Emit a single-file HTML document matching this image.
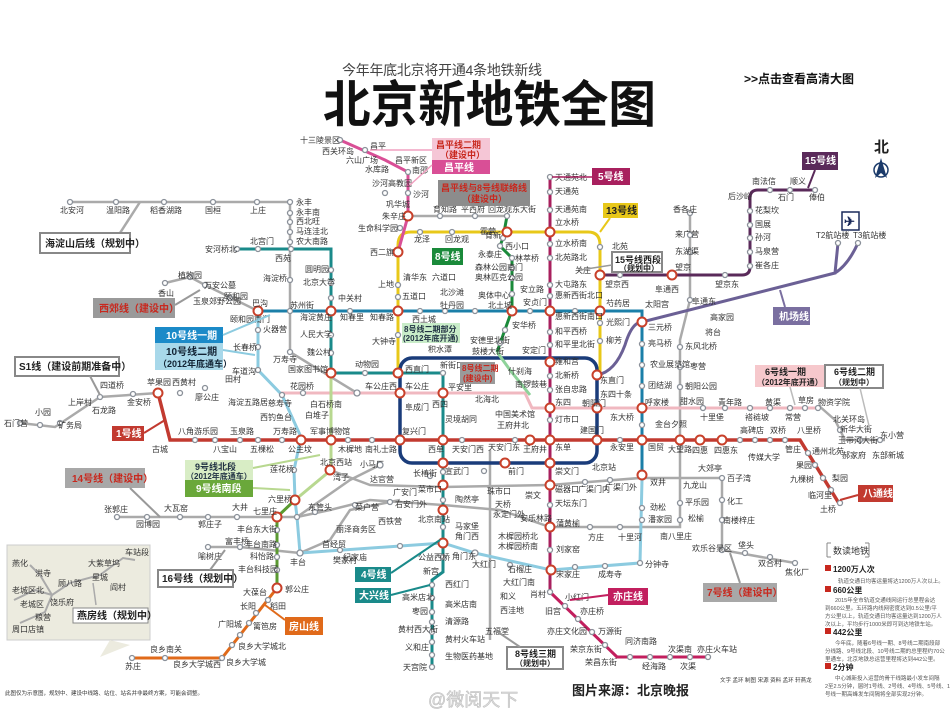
<!DOCTYPE html>
<html><head><meta charset="utf-8"><style>
html,body{margin:0;padding:0;background:#fff;}
svg{display:block;}
text{font-family:"Liberation Sans","Noto Sans CJK SC",sans-serif;}
.s{font-size:8px;fill:#333;}
.st{fill:#fff;stroke:#8a9099;stroke-width:1.3;}
.tr{fill:#fff;stroke:#c8402a;stroke-width:2;}
.bx{font-size:10px;font-weight:bold;}
</style></head><body>
<svg width="950" height="713" viewBox="0 0 950 713" xmlns="http://www.w3.org/2000/svg">
<rect width="950" height="713" fill="#fff"/>
<!-- titles -->
<text x="342" y="75" font-size="14" fill="#444" textLength="200">今年年底北京将开通4条地铁新线</text>
<text x="323" y="122" font-size="50" font-weight="bold" fill="#111" textLength="333" lengthAdjust="spacingAndGlyphs">北京新地铁全图</text>
<text x="744" y="83" font-size="12" font-weight="bold" fill="#111">&gt;&gt;点击查看高清大图</text>
<!-- compass -->
<text x="874" y="152" font-size="15" font-weight="bold" fill="#222">北</text>
<path d="M881 158 L875 178 L881 173 L887 178 Z" fill="#1a3a6a"/>
<circle cx="881" cy="170" r="7" fill="none" stroke="#1a3a6a" stroke-width="1.5"/>

<!-- grey planned lines -->
<g fill="none" stroke="#aaaaaa" stroke-width="2.5">
<path d="M70 202 H290 V352 L357 393"/>
<path d="M140 202 L120 233"/>
<path d="M165 283 L190 277 L205 285 L258 311"/>
<path d="M20 423 L55 427 L100 397 L158 393"/>
<path d="M117 517 H297 L350 480 L380 465"/>
<path d="M297 517 L330 510 L370 500 L443 505 L500 510 L550 527 H642 H680 V440 V408 V340 L690 300 L690 213"/>
<path d="M208 547 H240 L300 553"/>
<path d="M330 470 L370 485 L443 487 L550 485 L640 478 H722 V550 L795 563"/>
<path d="M818 405 L835 420 L845 440 H885"/>
<path d="M300 553 L330 540 L350 510 L400 500"/>
<path d="M490 450 V640"/>
<path d="M290 202 V202"/>
</g>
<!-- line 6 -->
<path d="M280 393 H525 L532 408 H820" fill="none" stroke="#f0b8c0" stroke-width="3"/>
<!-- line 10 -->
<path d="M258 311 H642 V480" fill="none" stroke="#1b7fa8" stroke-width="3"/>
<path d="M258 311 V370 L282 395 L301 437 L294 470 L295 500 L297 517 L300 553 L443 543 L475 553 L551 570 L640 563 L642 480" fill="none" stroke="#8ccbe0" stroke-width="3"/>
<!-- line 13 -->
<path d="M398 373 V245 Q398 232 411 232 H588 Q600 232 600 245 V375" fill="none" stroke="#e8c81a" stroke-width="3"/>
<!-- line 2 -->
<rect x="400" y="358" width="197" height="105" rx="12" fill="none" stroke="#1a3c7a" stroke-width="3.5"/>
<!-- line 4 -->
<path d="M237 249 H331 V373 H443 V572 L432 580 V667" fill="none" stroke="#1a8a8a" stroke-width="3"/>
<!-- line 9 -->
<path d="M331 373 V470 L295 500" fill="none" stroke="#b8d890" stroke-width="3"/>
<path d="M295 500 L277 517 V588" fill="none" stroke="#5a9a30" stroke-width="3"/>
<!-- line 8 -->
<path d="M507 216 L503 238 L500 246 L512 258 V310 L497 352" fill="none" stroke="#1a8a3a" stroke-width="3"/>
<path d="M497 352 L510 370 L530 395" fill="none" stroke="#8ed39a" stroke-width="3"/>
<!-- changping -->
<path d="M398 252 L408 216 V172 L385 160 L340 140" fill="none" stroke="#d94f96" stroke-width="3"/>
<path d="M408 216 H507" fill="none" stroke="#aaa" stroke-width="2.5"/>
<!-- line 5 -->
<path d="M550 177 V592" fill="none" stroke="#a8205e" stroke-width="3"/>
<path d="M550 592 L617 657 H708" fill="none" stroke="#c21f5e" stroke-width="3"/>
<!-- line 1 -->
<path d="M158 393 L170 440 H800 L840 505" fill="none" stroke="#c23a30" stroke-width="3.5"/>
<!-- fangshan -->
<path d="M277 588 L222 658 H132" fill="none" stroke="#e06a1a" stroke-width="3"/>
<!-- line 15 -->
<path d="M600 275 H742 Q750 275 750 267 V198 Q750 190 758 190 H815" fill="none" stroke="#5a2a5a" stroke-width="3"/>
<!-- airport -->
<path d="M597 375 Q615 372 625 345 Q632 322 642 322 L835 273 L838 243 M835 273 Q848 265 858 243" fill="none" stroke="#6b6095" stroke-width="3"/>

<!-- stations -->
<g class="st">
<circle cx="70" cy="202" r="2.5"/><circle cx="116" cy="202" r="2.5"/><circle cx="164" cy="202" r="2.5"/><circle cx="213" cy="202" r="2.5"/><circle cx="257" cy="202" r="2.5"/><circle cx="290" cy="202" r="2.5"/>
<circle cx="290" cy="213" r="2.5"/><circle cx="290" cy="222" r="2.5"/><circle cx="290" cy="232" r="2.5"/><circle cx="290" cy="242" r="2.5"/><circle cx="290" cy="280" r="2.5"/><circle cx="290" cy="311" r="2.5"/><circle cx="290" cy="352" r="2.5"/>
<circle cx="237" cy="249" r="2.5"/><circle cx="258" cy="249" r="2.5"/><circle cx="291" cy="249" r="2.5"/><circle cx="331" cy="270" r="2.5"/><circle cx="331" cy="283" r="2.5"/><circle cx="331" cy="298" r="2.5"/><circle cx="331" cy="335" r="2.5"/><circle cx="331" cy="353" r="2.5"/>
<circle cx="350" cy="311" r="2.5"/><circle cx="420" cy="311" r="2.5"/><circle cx="445" cy="311" r="2.5"/><circle cx="475" cy="311" r="2.5"/><circle cx="530" cy="311" r="2.5"/><circle cx="575" cy="311" r="2.5"/>
<circle cx="258" cy="330" r="2.5"/><circle cx="258" cy="347" r="2.5"/><circle cx="258" cy="370" r="2.5"/><circle cx="282" cy="395" r="2.5"/><circle cx="294" cy="470" r="2.5"/><circle cx="297" cy="517" r="2.5"/><circle cx="300" cy="553" r="3"/>
<circle cx="398" cy="285" r="2.5"/><circle cx="398" cy="297" r="2.5"/><circle cx="398" cy="335" r="2.5"/><circle cx="420" cy="232" r="2.5"/><circle cx="452" cy="232" r="2.5"/><circle cx="600" cy="247" r="2.5"/><circle cx="600" cy="323" r="2.5"/><circle cx="600" cy="341" r="2.5"/>
<circle cx="365" cy="373" r="2.5"/><circle cx="443" cy="373" r="2.5"/><circle cx="443" cy="472" r="2.5"/><circle cx="443" cy="500" r="2.5"/><circle cx="443" cy="527" r="2.5"/><circle cx="443" cy="557" r="2.5"/>
<circle cx="432" cy="585" r="2.5"/><circle cx="432" cy="598" r="2.5"/><circle cx="432" cy="612" r="2.5"/><circle cx="432" cy="622" r="2.5"/><circle cx="432" cy="632" r="2.5"/><circle cx="432" cy="642" r="2.5"/><circle cx="432" cy="655" r="2.5"/><circle cx="432" cy="667" r="2.5"/>
<circle cx="550" cy="177" r="2.5"/><circle cx="550" cy="192" r="2.5"/><circle cx="550" cy="210" r="2.5"/><circle cx="550" cy="244" r="2.5"/><circle cx="550" cy="258" r="2.5"/><circle cx="550" cy="285" r="2.5"/><circle cx="550" cy="296" r="2.5"/><circle cx="550" cy="332" r="2.5"/><circle cx="550" cy="345" r="2.5"/><circle cx="550" cy="376" r="2.5"/><circle cx="550" cy="390" r="2.5"/><circle cx="550" cy="420" r="2.5"/><circle cx="550" cy="505" r="2.5"/><circle cx="550" cy="550" r="2.5"/><circle cx="550" cy="592" r="2.5"/>
<circle cx="565" cy="606" r="2.5"/><circle cx="578" cy="619" r="2.5"/><circle cx="592" cy="632" r="2.5"/><circle cx="605" cy="645" r="2.5"/><circle cx="630" cy="657" r="2.5"/><circle cx="650" cy="657" r="2.5"/><circle cx="670" cy="657" r="2.5"/><circle cx="690" cy="657" r="2.5"/><circle cx="708" cy="657" r="2.5"/>
<circle cx="507" cy="216" r="2.5"/><circle cx="503" cy="238" r="2.5"/><circle cx="500" cy="246" r="2.5"/><circle cx="512" cy="258" r="2.5"/><circle cx="512" cy="268" r="2.5"/><circle cx="512" cy="278" r="2.5"/><circle cx="512" cy="294" r="2.5"/><circle cx="505" cy="330" r="2.5"/><circle cx="500" cy="343" r="2.5"/>
<circle cx="385" cy="193" r="2.5"/><circle cx="408" cy="172" r="2.5"/><circle cx="408" cy="193" r="2.5"/><circle cx="400" cy="228" r="2.5"/><circle cx="365" cy="150" r="2.5"/><circle cx="340" cy="140" r="2.5"/><circle cx="440" cy="216" r="2.5"/><circle cx="475" cy="216" r="2.5"/>
<circle cx="195" cy="440" r="2.5"/><circle cx="215" cy="440" r="2.5"/><circle cx="240" cy="440" r="2.5"/><circle cx="258" cy="440" r="2.5"/><circle cx="282" cy="440" r="2.5"/><circle cx="348" cy="440" r="2.5"/><circle cx="372" cy="440" r="2.5"/><circle cx="462" cy="440" r="2.5"/><circle cx="515" cy="440" r="2.5"/><circle cx="620" cy="440" r="2.5"/><circle cx="740" cy="440" r="2.5"/><circle cx="755" cy="440" r="2.5"/><circle cx="770" cy="440" r="2.5"/><circle cx="785" cy="440" r="2.5"/><circle cx="808" cy="453" r="2.5"/><circle cx="815" cy="465" r="2.5"/><circle cx="823" cy="478" r="2.5"/><circle cx="831" cy="490" r="2.5"/><circle cx="840" cy="503" r="2.5"/>
<circle cx="642" cy="344" r="2.5"/><circle cx="642" cy="365" r="2.5"/><circle cx="642" cy="386" r="2.5"/><circle cx="642" cy="425" r="2.5"/><circle cx="642" cy="508" r="2.5"/><circle cx="642" cy="520" r="2.5"/><circle cx="640" cy="563" r="2.5"/><circle cx="605" cy="566" r="2.5"/><circle cx="575" cy="567" r="2.5"/><circle cx="510" cy="565" r="2.5"/><circle cx="475" cy="553" r="3"/><circle cx="400" cy="546" r="2.5"/><circle cx="340" cy="550" r="2.5"/>
<circle cx="620" cy="275" r="2.5"/><circle cx="725" cy="275" r="2.5"/><circle cx="750" cy="266" r="2.5"/><circle cx="750" cy="252" r="2.5"/><circle cx="750" cy="238" r="2.5"/><circle cx="750" cy="225" r="2.5"/><circle cx="750" cy="211" r="2.5"/><circle cx="770" cy="190" r="2.5"/><circle cx="790" cy="190" r="2.5"/><circle cx="815" cy="190" r="2.5"/><circle cx="838" cy="243" r="2.5"/><circle cx="858" cy="243" r="2.5"/>
<circle cx="690" cy="213" r="2.5"/><circle cx="690" cy="235" r="2.5"/><circle cx="690" cy="252" r="2.5"/><circle cx="690" cy="300" r="2.5"/><circle cx="680" cy="347" r="2.5"/><circle cx="680" cy="367" r="2.5"/><circle cx="680" cy="387" r="2.5"/><circle cx="680" cy="503" r="2.5"/><circle cx="680" cy="520" r="2.5"/><circle cx="620" cy="527" r="2.5"/><circle cx="590" cy="527" r="2.5"/>
<circle cx="703" cy="408" r="2.5"/><circle cx="725" cy="408" r="2.5"/><circle cx="750" cy="408" r="2.5"/><circle cx="770" cy="408" r="2.5"/><circle cx="790" cy="408" r="2.5"/><circle cx="805" cy="408" r="2.5"/><circle cx="818" cy="408" r="2.5"/><circle cx="840" cy="430" r="2.5"/><circle cx="860" cy="440" r="2.5"/><circle cx="880" cy="440" r="2.5"/>
<circle cx="722" cy="478" r="2.5"/><circle cx="722" cy="500" r="2.5"/><circle cx="722" cy="520" r="2.5"/><circle cx="722" cy="550" r="2.5"/><circle cx="745" cy="553" r="2.5"/><circle cx="770" cy="557" r="2.5"/><circle cx="795" cy="563" r="2.5"/><circle cx="610" cy="480" r="2.5"/><circle cx="585" cy="482" r="2.5"/>
<circle cx="117" cy="517" r="2.5"/><circle cx="147" cy="517" r="2.5"/><circle cx="180" cy="517" r="2.5"/><circle cx="208" cy="517" r="2.5"/><circle cx="237" cy="517" r="2.5"/><circle cx="315" cy="512" r="2.5"/><circle cx="355" cy="505" r="2.5"/><circle cx="390" cy="502" r="2.5"/>
<circle cx="277" cy="530" r="2.5"/><circle cx="277" cy="545" r="2.5"/><circle cx="277" cy="557" r="2.5"/><circle cx="277" cy="570" r="2.5"/><circle cx="268" cy="600" r="2.5"/><circle cx="256" cy="613" r="2.5"/><circle cx="249" cy="623" r="2.5"/><circle cx="240" cy="635" r="2.5"/><circle cx="232" cy="645" r="2.5"/><circle cx="222" cy="658" r="2.5"/><circle cx="165" cy="658" r="2.5"/><circle cx="132" cy="658" r="2.5"/>
<circle cx="208" cy="547" r="2.5"/><circle cx="240" cy="547" r="2.5"/>
<circle cx="20" cy="423" r="2.5"/><circle cx="40" cy="425" r="2.5"/><circle cx="60" cy="423" r="2.5"/><circle cx="100" cy="397" r="2.5"/><circle cx="133" cy="394" r="2.5"/><circle cx="180" cy="393" r="2.5"/><circle cx="205" cy="388" r="2.5"/><circle cx="165" cy="283" r="2.5"/><circle cx="190" cy="277" r="2.5"/><circle cx="205" cy="285" r="2.5"/><circle cx="230" cy="298" r="2.5"/>
<circle cx="303" cy="393" r="2.5"/><circle cx="357" cy="393" r="3"/><circle cx="430" cy="476" r="2.5"/><circle cx="484" cy="471" r="2.5"/><circle cx="380" cy="465" r="3"/>
</g>
<g class="tr">
<circle cx="258" cy="311" r="4.5"/><circle cx="331" cy="311" r="4.5"/><circle cx="398" cy="311" r="4.5"/><circle cx="512" cy="311" r="4.5"/><circle cx="550" cy="311" r="4.5"/><circle cx="600" cy="311" r="4.5"/><circle cx="642" cy="322" r="4.5"/>
<circle cx="331" cy="373" r="4.5"/><circle cx="398" cy="373" r="4.5"/><circle cx="398" cy="252" r="4.5"/><circle cx="408" cy="216" r="4.5"/><circle cx="507" cy="232" r="4.5"/><circle cx="550" cy="232" r="4.5"/>
<circle cx="400" cy="393" r="4.5"/><circle cx="443" cy="393" r="4.5"/><circle cx="550" cy="362" r="4.5"/><circle cx="550" cy="408" r="4.5"/><circle cx="597" cy="375" r="4.5"/><circle cx="597" cy="408" r="4.5"/><circle cx="642" cy="408" r="4.5"/><circle cx="600" cy="275" r="4.5"/><circle cx="672" cy="275" r="4.5"/>
<circle cx="158" cy="393" r="4.5"/><circle cx="301" cy="440" r="4.5"/><circle cx="331" cy="440" r="4.5"/><circle cx="400" cy="440" r="4.5"/><circle cx="443" cy="440" r="4.5"/><circle cx="530" cy="440" r="4.5"/><circle cx="550" cy="440" r="4.5"/><circle cx="597" cy="440" r="4.5"/><circle cx="642" cy="440" r="4.5"/><circle cx="680" cy="440" r="4.5"/><circle cx="700" cy="440" r="4.5"/><circle cx="722" cy="440" r="4.5"/>
<circle cx="443" cy="463" r="4.5"/><circle cx="505" cy="463" r="4.5"/><circle cx="550" cy="463" r="4.5"/><circle cx="443" cy="485" r="4.5"/><circle cx="550" cy="485" r="4.5"/><circle cx="642" cy="475" r="4.5"/><circle cx="443" cy="510" r="4.5"/><circle cx="550" cy="527" r="4.5"/><circle cx="443" cy="543" r="4.5"/><circle cx="551" cy="570" r="4.5"/>
<circle cx="330" cy="470" r="4.5"/><circle cx="295" cy="500" r="4.5"/><circle cx="277" cy="517" r="4.5"/><circle cx="277" cy="588" r="4.5"/>
</g>

<!-- station labels -->
<g class="s">
<text x="300" y="143">十三陵景区</text><text x="322" y="154">西关环岛</text><text x="370" y="149">昌平</text><text x="346" y="163">六山广场</text><text x="365" y="172">水库路</text><text x="395" y="163">昌平新区</text><text x="412" y="173">南邵</text><text x="372" y="186">沙河高教园</text><text x="413" y="197">沙河</text><text x="386" y="207">巩华城</text><text x="382" y="219">朱辛庄</text><text x="358" y="231">生命科学园</text><text x="433" y="212">育知路</text><text x="461" y="212">平西府</text><text x="488" y="212">回龙观东大街</text>
<text x="60" y="213">北安河</text><text x="106" y="213">温阳路</text><text x="150" y="213">稻香湖路</text><text x="205" y="213">国桓</text><text x="250" y="213">上庄</text><text x="296" y="205">永丰</text><text x="296" y="215">永丰南</text><text x="296" y="224">西北旺</text><text x="296" y="234">马连洼北</text><text x="296" y="244">农大南路</text>
<text x="250" y="244">北宫门</text><text x="205" y="252">安河桥北</text><text x="275" y="261">西苑</text><text x="305" y="272">圆明园</text><text x="263" y="281">海淀桥</text><text x="303" y="285">北京大学</text><text x="338" y="301">中关村</text><text x="290" y="308">苏州街</text><text x="252" y="306">巴沟</text><text x="204" y="288">万安公墓</text><text x="178" y="278">植物园</text><text x="158" y="296">香山</text><text x="193" y="304">玉泉郊野公园</text><text x="224" y="299">颐和园</text><text x="230" y="322">颐和园南门</text><text x="263" y="332">火器营</text><text x="233" y="350">长春桥</text><text x="300" y="320">海淀黄庄</text><text x="340" y="320">知春里</text><text x="370" y="320">知春路</text><text x="300" y="337">人民大学</text><text x="307" y="355">魏公村</text><text x="273" y="362">万寿寺</text><text x="288" y="372">国家图书馆</text><text x="355" y="367">动物园</text><text x="405" y="372">西直门</text><text x="440" y="368">新街口</text>
<text x="232" y="374">车道沟</text><text x="290" y="389">花园桥</text><text x="365" y="389">车公庄西</text><text x="405" y="389">车公庄</text><text x="448" y="390">平安里</text><text x="225" y="382">田村</text><text x="147" y="385">苹果园</text><text x="172" y="385">西黄村</text><text x="195" y="400">廖公庄</text><text x="100" y="388">四道桥</text><text x="68" y="405">上岸村</text><text x="92" y="413">石龙路</text><text x="127" y="405">金安桥</text><text x="228" y="405">海淀五路居</text><text x="268" y="406">慈寿寺</text><text x="310" y="407">白石桥南</text><text x="305" y="418">白堆子</text><text x="260" y="420">西钓鱼台</text><text x="35" y="415">小园</text><text x="4" y="426">石门营</text><text x="58" y="428">矿务局</text><text x="405" y="410">阜成门</text><text x="432" y="407">西四</text><text x="445" y="422">灵境胡同</text>
<text x="378" y="287">上地</text><text x="402" y="299">五道口</text><text x="403" y="280">清华东</text><text x="432" y="280">六道口</text><text x="440" y="295">北沙滩</text><text x="440" y="308">牡丹园</text><text x="412" y="322">西土城</text><text x="372" y="344">大钟寺</text><text x="428" y="352">积水潭</text><text x="370" y="255">西二旗</text><text x="414" y="242">龙泽</text><text x="445" y="242">回龙观</text><text x="480" y="234">霍营</text>
<text x="555" y="180">天通苑北</text><text x="555" y="194">天通苑</text><text x="555" y="212">天通苑南</text><text x="555" y="225">立水桥</text><text x="555" y="246">立水桥南</text><text x="555" y="260">北苑路北</text><text x="555" y="287">大屯路东</text><text x="555" y="298">惠新西街北口</text><text x="555" y="319">惠新西街南口</text><text x="555" y="334">和平西桥</text><text x="555" y="347">和平里北街</text><text x="555" y="364">雍和宫</text><text x="555" y="378">北新桥</text><text x="555" y="392">张自忠路</text><text x="555" y="405">东四</text><text x="555" y="422">灯市口</text>
<text x="485" y="238">育新</text><text x="505" y="249">西小口</text><text x="478" y="257">永泰庄</text><text x="515" y="261">林萃桥</text><text x="475" y="270">森林公园南门</text><text x="475" y="280">奥林匹克公园</text><text x="478" y="298">奥体中心</text><text x="488" y="308">北土城</text><text x="520" y="292">安立路</text><text x="523" y="305">安贞门</text><text x="512" y="328">安华桥</text><text x="470" y="343">安德里北街</text><text x="472" y="354">鼓楼大街</text><text x="522" y="353">安定门</text><text x="508" y="374">什刹海</text><text x="515" y="387">南锣鼓巷</text><text x="475" y="402">北海北</text><text x="495" y="417">中国美术馆</text><text x="497" y="428">王府井北</text>
<text x="612" y="249">北苑</text><text x="575" y="273">关庄</text><text x="605" y="287">望京西</text><text x="606" y="306">芍药居</text><text x="645" y="307">太阳宫</text><text x="606" y="325">光熙门</text><text x="606" y="343">柳芳</text><text x="600" y="383">东直门</text><text x="600" y="397">东四十条</text><text x="582" y="406">朝阳门</text><text x="610" y="420">东大桥</text><text x="645" y="405">呼家楼</text><text x="655" y="427">金台夕照</text><text x="648" y="330">三元桥</text><text x="648" y="346">亮马桥</text><text x="650" y="367">农业展览馆</text><text x="648" y="388">团结湖</text>
<text x="673" y="212">香各庄</text><text x="675" y="237">来广营</text><text x="675" y="254">东湖渠</text><text x="675" y="270">望京</text><text x="655" y="292">阜通西</text><text x="692" y="304">阜通东</text><text x="715" y="287">望京东</text><text x="710" y="320">高家园</text><text x="705" y="335">将台</text><text x="685" y="349">东风北桥</text><text x="690" y="369">枣营</text><text x="685" y="389">朝阳公园</text><text x="680" y="404">甜水园</text><text x="718" y="405">青年路</text><text x="700" y="420">十里堡</text><text x="745" y="420">褡裢坡</text><text x="765" y="405">黄渠</text><text x="785" y="420">常营</text><text x="798" y="403">草房</text><text x="818" y="405">物资学院</text><text x="833" y="422">北关环岛</text><text x="840" y="432">新华大街</text><text x="838" y="443">玉带河大街</text><text x="880" y="438">东小营</text><text x="842" y="458">郝家府</text><text x="872" y="458">东部新城</text>
<text x="728" y="199">后沙峪</text><text x="752" y="184">南法信</text><text x="778" y="200">石门</text><text x="790" y="184">顺义</text><text x="809" y="200">俸伯</text><text x="755" y="213">花梨坎</text><text x="755" y="227">国展</text><text x="755" y="240">孙河</text><text x="755" y="254">马泉营</text><text x="755" y="268">崔各庄</text><text x="816" y="238">T2航站楼</text><text x="853" y="238">T3航站楼</text>
<text x="488" y="450">天安门东</text><text x="523" y="452">王府井</text><text x="555" y="450">东单</text><text x="580" y="433">建国门</text><text x="610" y="450">永安里</text><text x="648" y="450">国贸</text><text x="668" y="452">大望路</text><text x="692" y="453">四惠</text><text x="714" y="453">四惠东</text><text x="740" y="433">高碑店</text><text x="748" y="460">传媒大学</text><text x="770" y="433">双桥</text><text x="785" y="452">管庄</text><text x="797" y="433">八里桥</text><text x="812" y="454">通州北苑</text><text x="796" y="468">果园</text><text x="790" y="482">九棵树</text><text x="832" y="481">梨园</text><text x="808" y="498">临河里</text><text x="820" y="512">土桥</text>
<text x="508" y="474">前门</text><text x="555" y="474">崇文门</text><text x="592" y="470">北京站</text><text x="650" y="485">双井</text><text x="683" y="488">九龙山</text><text x="698" y="471">大郊亭</text><text x="727" y="481">百子湾</text><text x="727" y="504">化工</text><text x="723" y="523">南楼梓庄</text><text x="692" y="551">欢乐谷景区</text><text x="738" y="548">垡头</text><text x="758" y="566">双合村</text><text x="785" y="575">焦化厂</text><text x="685" y="505">平乐园</text><text x="688" y="521">松榆</text><text x="650" y="510">劲松</text><text x="648" y="522">潘家园</text><text x="660" y="539">南八里庄</text><text x="618" y="540">十里河</text><text x="588" y="540">方庄</text><text x="556" y="526">蒲黄榆</text><text x="556" y="552">刘家窑</text><text x="556" y="577">宋家庄</text><text x="598" y="577">成寿寺</text><text x="645" y="567">分钟寺</text>
<text x="530" y="597">肖村</text><text x="565" y="600">小红门</text><text x="545" y="614">旧宫</text><text x="580" y="614">亦庄桥</text><text x="547" y="634">亦庄文化园</text><text x="598" y="634">万源街</text><text x="570" y="652">荣京东街</text><text x="585" y="665">荣昌东街</text><text x="625" y="644">同济南路</text><text x="642" y="669">经海路</text><text x="668" y="652">次渠南</text><text x="680" y="669">次渠</text><text x="697" y="652">亦庄火车站</text>
<text x="578" y="492">广渠门内</text><text x="605" y="490">广渠门外</text><text x="555" y="492">磁器口</text><text x="555" y="506">天坛东门</text><text x="525" y="498">崇文</text><text x="487" y="494">珠市口</text><text x="495" y="507">天桥</text><text x="493" y="517">永定门外</text><text x="520" y="521">安乐林路</text><text x="498" y="539">木樨园桥北</text><text x="498" y="549">木樨园桥南</text><text x="472" y="567">大红门</text><text x="508" y="572">石榴庄</text><text x="503" y="585">大红门南</text><text x="500" y="599">和义</text><text x="500" y="613">西洼地</text><text x="485" y="634">五福堂</text>
<text x="152" y="452">古城</text><text x="178" y="434">八角游乐园</text><text x="213" y="452">八宝山</text><text x="230" y="434">玉泉路</text><text x="250" y="452">五棵松</text><text x="273" y="434">万寿路</text><text x="288" y="452">公主坟</text><text x="310" y="434">军事博物馆</text><text x="338" y="452">木樨地</text><text x="365" y="452">南礼士路</text><text x="402" y="434">复兴门</text><text x="428" y="452">西单</text><text x="452" y="452">天安门西</text><text x="413" y="476">长椿街</text><text x="445" y="474">宣武门</text><text x="418" y="492">菜市口</text><text x="455" y="502">陶然亭</text><text x="418" y="522">北京南站</text><text x="455" y="529">马家堡</text><text x="455" y="539">角门西</text><text x="452" y="559">角门东</text><text x="418" y="560">公益西桥</text><text x="423" y="574">新宫</text><text x="445" y="587">西红门</text><text x="402" y="600">高米店北</text><text x="445" y="607">高米店南</text><text x="412" y="614">枣园</text><text x="445" y="624">清源路</text><text x="398" y="632">黄村西大街</text><text x="445" y="642">黄村火车站</text><text x="405" y="650">义和庄</text><text x="445" y="659">生物医药基地</text><text x="403" y="670">天宫院</text>
<text x="320" y="465">北京西站</text><text x="270" y="472">莲花桥</text><text x="232" y="510">大井</text><text x="268" y="502">六里桥</text><text x="253" y="514">七里庄</text><text x="198" y="527">郭庄子</text><text x="136" y="527">园博园</text><text x="104" y="512">张郭庄</text><text x="164" y="511">大瓦窑</text><text x="308" y="510">东管头</text><text x="336" y="532">丽泽商务区</text><text x="355" y="510">菜户营</text><text x="378" y="524">西铁营</text><text x="395" y="507">右安门外</text><text x="333" y="480">湾子</text><text x="370" y="482">达官营</text><text x="393" y="495">广安门</text><text x="360" y="467">小马厂</text>
<text x="237" y="532">丰台东大街</text><text x="245" y="547">丰台南路</text><text x="250" y="559">科怡路</text><text x="238" y="572">丰台科技园</text><text x="225" y="544">富丰桥</text><text x="198" y="559">喻树庄</text><text x="285" y="592">郭公庄</text><text x="243" y="595">大葆台</text><text x="270" y="609">稻田</text><text x="240" y="609">长阳</text><text x="253" y="629">篱笆房</text><text x="218" y="627">广阳城</text><text x="238" y="649">良乡大学城北</text><text x="226" y="665">良乡大学城</text><text x="150" y="652">良乡南关</text><text x="173" y="667">良乡大学城西</text><text x="125" y="669">苏庄</text><text x="343" y="560">纪家庙</text><text x="322" y="547">首经贸</text><text x="290" y="565">丰台</text><text x="333" y="563">樊家村</text>
</g>

<!-- inset -->
<rect x="7" y="545" width="143" height="95" fill="#ecebdf" stroke="#ccc"/>
<path d="M110 640 L100 657 L130 645 Z" fill="#ecebdf"/>
<path d="M14 600 L35 590 L52 595 L70 583 L100 575 L123 558 L135 560 M52 595 L45 612 L20 623 M52 595 L40 575 L30 565" fill="none" stroke="#aaa" stroke-width="2"/>
<path d="M93 583 L96 605" stroke="#aaa" stroke-width="1.5" fill="none"/>
<g class="s" font-size="7">
<text x="12" y="566">燕化</text><text x="35" y="576">洪寺</text><text x="12" y="593">老城区北</text><text x="20" y="607">老城区</text><text x="50" y="605">饶乐府</text><text x="58" y="586">顾八路</text><text x="88" y="566">大紫草坞</text><text x="92" y="580">星城</text><text x="110" y="590">阎村</text><text x="125" y="555">车站段</text><text x="12" y="632">周口店镇</text><text x="35" y="620">粮营</text>
</g>

<!-- label boxes -->
<g class="bx">
<rect x="40" y="233" width="90" height="20" fill="#fff" stroke="#888" stroke-width="2"/><text x="45" y="247" fill="#222">海淀山后线（规划中）</text>
<rect x="93" y="298" width="82" height="20" fill="#9a9a9a"/><text x="99" y="312" fill="#c8281e">西郊线（建设中）</text>
<path d="M175 305 L200 290" stroke="#999" stroke-width="2"/>
<rect x="155" y="327" width="68" height="16" fill="#1b8ac8"/><text x="166" y="339" fill="#fff">10号线一期</text>
<rect x="155" y="343" width="68" height="27" fill="#a8d8ea"/><text x="166" y="355" fill="#123">10号线二期</text><text x="158" y="367" fill="#123" font-size="9">（2012年底通车）</text>
<path d="M223 335 L270 315 M223 350 L255 355" stroke="#8ccbe0" stroke-width="2"/>
<rect x="15" y="357" width="104" height="19" fill="#fff" stroke="#888" stroke-width="2"/><text x="19" y="370" fill="#222">S1线（建设前期准备中）</text>
<path d="M90 376 L100 395" stroke="#999" stroke-width="2"/>
<rect x="112" y="426" width="32" height="15" fill="#c23a30"/><text x="116" y="437" fill="#fff">1号线</text>
<path d="M144 433 L165 420" stroke="#c23a30" stroke-width="2"/>
<rect x="65" y="468" width="80" height="20" fill="#a8a8a8"/><text x="72" y="482" fill="#c8281e">14号线（建设中）</text>
<path d="M130 488 L160 517" stroke="#999" stroke-width="2"/>
<rect x="185" y="460" width="68" height="20" fill="#d8edc5"/><text x="195" y="470" fill="#234" font-size="9">9号线北段</text><text x="186" y="479" fill="#234" font-size="8">（2012年底通车）</text>
<rect x="185" y="480" width="68" height="17" fill="#6aa83a"/><text x="196" y="492" fill="#fff">9号线南段</text>
<path d="M253 468 L320 455 M253 488 L290 490" stroke="#b8d890" stroke-width="2"/>
<rect x="158" y="570" width="75" height="17" fill="#fff" stroke="#888" stroke-width="2"/><text x="162" y="582" fill="#222">16号线（规划中）</text>
<path d="M210 570 L225 550" stroke="#999" stroke-width="2"/>
<rect x="73" y="608" width="75" height="15" fill="#fff" stroke="#888" stroke-width="1"/><text x="77" y="619" fill="#222">燕房线（规划中）</text>
<rect x="285" y="617" width="38" height="18" fill="#e06a1a"/><text x="289" y="630" fill="#fff">房山线</text>
<path d="M285 620 L265 605" stroke="#e06a1a" stroke-width="2"/>
<rect x="355" y="567" width="36" height="15" fill="#1a8a8a"/><text x="361" y="578" fill="#fff">4号线</text>
<rect x="355" y="588" width="36" height="15" fill="#1a8a8a"/><text x="359" y="599" fill="#fff">大兴线</text>
<path d="M391 573 L440 540 M391 595 L430 585" stroke="#1a8a8a" stroke-width="2"/>
<rect x="432" y="138" width="58" height="22" fill="#f5c6d6"/><text x="436" y="148" fill="#c8281e" font-size="9">昌平线二期</text><text x="440" y="158" fill="#c8281e" font-size="9">（建设中）</text>
<rect x="432" y="160" width="58" height="14" fill="#d94f96"/><text x="444" y="171" fill="#fff">昌平线</text>
<path d="M432 150 L370 150 M432 165 L410 185" stroke="#f0a0c0" stroke-width="1.5"/>
<rect x="438" y="180" width="92" height="26" fill="#8c8c8c"/><text x="441" y="191" fill="#c8281e" font-size="9">昌平线与8号线联络线</text><text x="462" y="202" fill="#c8281e" font-size="9">（建设中）</text>
<rect x="432" y="248" width="31" height="17" fill="#1a8a3a"/><text x="435" y="260" fill="#fff">8号线</text>
<rect x="402" y="323" width="58" height="20" fill="#c8ecc8"/><text x="404" y="332" fill="#234" font-size="8">8号线二期部分</text><text x="403" y="341" fill="#234" font-size="8">(2012年底开通)</text>
<rect x="460" y="362" width="35" height="22" fill="#9a9a9a"/><text x="462" y="371" fill="#c8281e" font-size="8">8号线二期</text><text x="463" y="381" fill="#c8281e" font-size="8">(建设中)</text>
<rect x="592" y="168" width="38" height="17" fill="#a8205e"/><text x="598" y="180" fill="#fff">5号线</text>
<path d="M592 177 L552 177" stroke="#a8205e" stroke-width="1.5"/>
<rect x="603" y="203" width="35" height="15" fill="#e8c81a"/><text x="606" y="214" fill="#222">13号线</text>
<path d="M610 218 L600 232" stroke="#e8c81a" stroke-width="2"/>
<rect x="612" y="252" width="50" height="20" fill="#fff" stroke="#888" stroke-width="2"/><text x="615" y="263" fill="#222" font-size="9">15号线西段</text><text x="619" y="271" fill="#222" font-size="8">（规划中）</text>
<path d="M612 265 L580 270" stroke="#999" stroke-width="1.5"/>
<rect x="802" y="152" width="36" height="18" fill="#5a2a5a"/><text x="805" y="164" fill="#fff">15号线</text>
<path d="M815 170 L808 188" stroke="#5a2a5a" stroke-width="2"/>
<rect x="842" y="212" width="17" height="18" fill="#fff" stroke="#1a2a5a" stroke-width="1.5"/><text x="844" y="226" font-size="13" fill="#1a2a5a">✈</text>
<rect x="773" y="307" width="37" height="18" fill="#7a6fa0"/><text x="779" y="320" fill="#fff">机场线</text>
<path d="M785 307 L780 290" stroke="#7a6fa0" stroke-width="2"/>
<rect x="755" y="365" width="70" height="22" fill="#f6c8cc"/><text x="765" y="375" fill="#222" font-size="9">6号线一期</text><text x="757" y="385" fill="#222" font-size="8">（2012年底开通）</text>
<rect x="825" y="365" width="58" height="23" fill="#fff" stroke="#888" stroke-width="2"/><text x="834" y="375" fill="#222" font-size="9">6号线二期</text><text x="834" y="385" fill="#222" font-size="8">（规划中）</text>
<path d="M790 387 L795 405 M860 388 L870 430" stroke="#bbb" stroke-width="1.5"/>
<rect x="858" y="485" width="35" height="17" fill="#c23a30"/><text x="863" y="497" fill="#fff">八通线</text>
<path d="M858 495 L840 500" stroke="#c23a30" stroke-width="2"/>
<rect x="608" y="588" width="40" height="17" fill="#c21f5e"/><text x="613" y="600" fill="#fff">亦庄线</text>
<path d="M608 595 L570 600" stroke="#c21f5e" stroke-width="2"/>
<rect x="703" y="583" width="74" height="19" fill="#a8a8a8"/><text x="707" y="596" fill="#c8281e">7号线（建设中）</text>
<path d="M740 583 L730 553" stroke="#999" stroke-width="2"/>
<rect x="507" y="647" width="56" height="22" fill="#fff" stroke="#888" stroke-width="2"/><text x="515" y="657" fill="#222" font-size="9">8号线三期</text><text x="515" y="666" fill="#222" font-size="8">（规划中）</text>
<path d="M520 647 L495 630" stroke="#999" stroke-width="2"/>
</g>

<!-- info box -->
<g>
<path d="M827 543 V557 M827 543 H831 M827 557 H831 M869 543 V557 M869 543 H865 M869 557 H865" stroke="#888" fill="none"/>
<text x="833" y="554" font-size="9" fill="#333">数读地铁</text>
<rect x="825" y="565" width="6" height="6" fill="#c8281e"/><text x="833" y="572" font-size="8" font-weight="bold" fill="#222">1200万人次</text>
<text x="838" y="583" font-size="5.5" fill="#555">轨道交通日均客运量将达1200万人次以上。</text>
<rect x="825" y="586" width="6" height="6" fill="#c8281e"/><text x="833" y="593" font-size="8" font-weight="bold" fill="#222">660公里</text>
<text x="835" y="602" font-size="5.5" fill="#555">2015年全市轨道交通线网运行总里程会达</text>
<text x="825" y="610" font-size="5.5" fill="#555">到660公里。五环路内线网密度达到0.5公里/平</text>
<text x="825" y="618" font-size="5.5" fill="#555">方公里以上，轨道交通日均客运量达到1200万人</text>
<text x="825" y="626" font-size="5.5" fill="#555">次以上，平均步行1000米即可到达地铁车站。</text>
<rect x="825" y="628" width="6" height="6" fill="#c8281e"/><text x="833" y="635" font-size="8" font-weight="bold" fill="#222">442公里</text>
<text x="835" y="645" font-size="5.5" fill="#555">今年底，随着6号线一期、8号线二期南段部</text>
<text x="825" y="653" font-size="5.5" fill="#555">分线路、9号线北段、10号线二期的总里程约70公</text>
<text x="825" y="661" font-size="5.5" fill="#555">里通车，北京地铁总运营里程将达到442公里。</text>
<rect x="825" y="663" width="6" height="6" fill="#c8281e"/><text x="833" y="670" font-size="8" font-weight="bold" fill="#222">2分钟</text>
<text x="835" y="680" font-size="5.5" fill="#555">中心城新投入运营的骨干线路最小发车间隔</text>
<text x="825" y="688" font-size="5.5" fill="#555">2至2.5分钟，届时1号线、2号线、4号线、5号线、10</text>
<text x="825" y="696" font-size="5.5" fill="#555">号线一期高峰发车间隔将全部实现2分钟。</text>
</g>

<!-- footer -->
<text x="5" y="695" font-size="5.5" fill="#333">此图仅为示意图，规划中、建设中线路、站位、站名并非最终方案，可能会调整。</text>
<text x="572" y="695" font-size="13" font-weight="bold" fill="#222">图片来源：北京晚报</text>
<text x="720" y="682" font-size="5.5" fill="#333">文字 孟环   制图 宋源   资料 孟环 轩燕龙</text>
<text x="428" y="706" font-size="18" fill="#ddd" stroke="#bbb" stroke-width="0.5">@微阅天下</text>
</svg>
</body></html>
